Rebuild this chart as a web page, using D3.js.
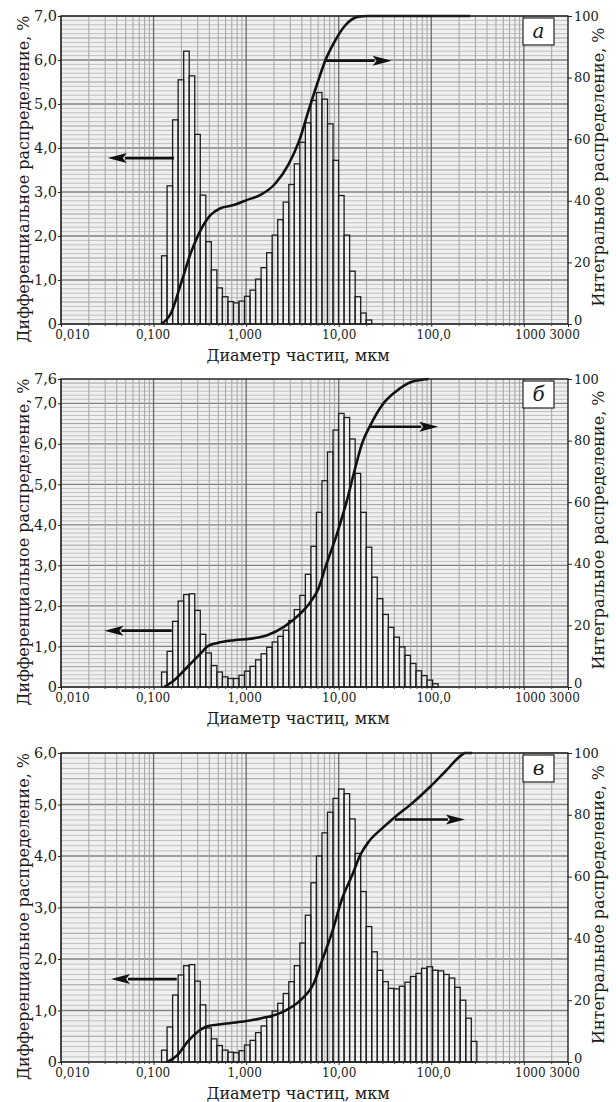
<!DOCTYPE html>
<html lang="ru">
<head>
<meta charset="UTF-8">
<title>Распределение частиц по размерам</title>
<script src="https://d3js.org/d3.v7.min.js"></script>
<style>
  body { margin: 0; background: #fff; }
  svg text { font-family: "DejaVu Serif", serif; fill: #1a1a1a; }
</style>
</head>
<body>
<svg id="chart" width="616" height="1102"></svg>
<script>
// size classes of the analyser: lower edge of the first class and ratio between classes
const classLo = 0.122;
const classRatio = 1.1475;

const xTickValues = [0.01, 0.1, 1, 10, 100, 1000, 3000];
const xTickLabels = ["0,010", "0,100", "1,000", "10,00", "100,0", "1000", "3000"];
const rightTickValues = [0, 20, 40, 60, 80, 100];

// panel а
const diffA = [1.55, 3.14, 4.64, 5.55, 6.20, 5.64, 4.31, 2.93, 1.87, 1.23,
  0.82, 0.62, 0.51, 0.48, 0.52, 0.63, 0.77, 1.02, 1.28, 1.62,
  2.02, 2.37, 2.77, 3.17, 3.64, 4.13, 4.57, 5.08, 5.26, 5.11,
  4.55, 3.72, 2.92, 2.02, 1.20, 0.62, 0.25, 0.09];
const cumA = [[0.12, 0], [0.154, 3.5], [0.197, 13], [0.252, 23], [0.323, 30.5],
  [0.414, 35.4], [0.531, 37.6], [0.733, 38.6], [1.03, 40.3], [1.43, 41.9],
  [2.08, 45.7], [2.89, 52], [3.71, 59.2], [4.75, 69.5], [5.86, 78],
  [7.20, 85.7], [9.22, 92.2], [11.8, 97], [16.4, 99.8], [20.3, 100], [263, 100]];
const yTicksA = [0, 1, 2, 3, 4, 5, 6, 7];

// panel б
const diffB = [0.37, 0.88, 1.62, 2.12, 2.28, 2.30, 1.89, 1.30, 0.84, 0.53,
  0.37, 0.25, 0.21, 0.21, 0.29, 0.39, 0.51, 0.67, 0.82, 0.98,
  1.11, 1.25, 1.40, 1.64, 1.91, 2.26, 2.78, 3.47, 4.31, 5.09,
  5.80, 6.34, 6.75, 6.65, 6.12, 5.27, 4.31, 3.45, 2.71, 2.18,
  1.79, 1.47, 1.23, 0.99, 0.78, 0.58, 0.40, 0.28, 0.17, 0.08];
const cumB = [[0.13, 0], [0.167, 2.2], [0.232, 6.5], [0.323, 10.9], [0.382, 13.2],
  [0.489, 14.3], [0.739, 15.2], [1.12, 15.7], [1.69, 16.8], [2.56, 19.5],
  [3.87, 23.9], [4.96, 27.6], [6.05, 32], [7.20, 39], [9.62, 49.9],
  [12.3, 60.7], [15.2, 71.5], [17.9, 79.1], [22.0, 85], [29.4, 91.5],
  [40.9, 95.8], [61.9, 99.1], [93.5, 100]];
const yTicksB = [0, 1, 2, 3, 4, 5, 6, 7, 7.6];

// panel в
const diffC = [0.23, 0.68, 1.30, 1.69, 1.87, 1.89, 1.57, 1.11, 0.66, 0.45,
  0.32, 0.23, 0.19, 0.18, 0.22, 0.33, 0.42, 0.57, 0.70, 0.87,
  0.99, 1.14, 1.33, 1.56, 1.87, 2.31, 2.85, 3.48, 4.00, 4.45,
  4.85, 5.12, 5.30, 5.21, 4.72, 4.05, 3.31, 2.63, 2.14, 1.78,
  1.56, 1.43, 1.42, 1.47, 1.55, 1.66, 1.72, 1.82, 1.85, 1.78,
  1.77, 1.70, 1.63, 1.45, 1.20, 0.85, 0.40];
const cumC = [[0.141, 0], [0.181, 2.2], [0.232, 6.5], [0.298, 9.7], [0.382, 11.6],
  [0.531, 12.2], [0.873, 13], [1.43, 14.1], [2.36, 15.9], [3.87, 20],
  [5.38, 25.5], [6.64, 33], [8.50, 42.1], [10.9, 52.9], [14.0, 60.5],
  [17.1, 67], [21.1, 71.3], [29.4, 75.6], [40.9, 79.4], [61.9, 83.7],
  [93.5, 88.6], [141.6, 94], [214, 99.4], [232, 100], [275, 100]];
const yTicksC = [0, 1, 2, 3, 4, 5, 6];

const panels = [
  { label: "а", diff: diffA, cum: cumA, yMax: 7.0, yTicks: yTicksA, top: 16, bottom: 324,
    arrowL: { y: 3.77, from: 0.166, to: 0.032 }, arrowR: { y: 85.5, from: 6.93, to: 37.3 } },
  { label: "б", diff: diffB, cum: cumB, yMax: 7.6, yTicks: yTicksB, top: 379, bottom: 687,
    arrowL: { y: 1.39, from: 0.157, to: 0.0294 }, arrowR: { y: 84.5, from: 21.8, to: 119 } },
  { label: "в", diff: diffC, cum: cumC, yMax: 6.0, yTicks: yTicksC, top: 753, bottom: 1062,
    arrowL: { y: 1.61, from: 0.178, to: 0.0347 }, arrowR: { y: 78.5, from: 40.6, to: 231 } }
];

const svg = d3.select("#chart");
const xL = 61, xR = 568;
const x = d3.scaleLog().domain([0.01, 3000]).range([xL, xR]);
const xLabelDx = [11, -1, -2, 0, 2, 6, -4];
const fmtLeft = d => d === 0 ? "0" : d3.format(".1f")(d).replace(".", ",");

// minor log positions
const minorX = [];
for (let e = -2; e <= 3; e++) {
  for (let m = 2; m <= 9; m++) {
    const v = m * Math.pow(10, e);
    if (v < 3000) minorX.push(v);
  }
}
const decadeX = [0.01, 0.1, 1, 10, 100, 1000];

panels.forEach(p => {
  const g = svg.append("g");
  const y = d3.scaleLinear().domain([0, p.yMax]).range([p.bottom, p.top]);
  const y2 = d3.scaleLinear().domain([0, 100]).range([p.bottom, p.top]);

  g.append("rect")
    .attr("x", xL).attr("y", p.top)
    .attr("width", xR - xL).attr("height", p.bottom - p.top)
    .attr("fill", "#f0f0f0");

  // horizontal grid
  const hMinor = d3.range(0, p.yMax + 1e-9, 0.1);
  g.append("g").selectAll("line").data(hMinor).join("line")
    .attr("x1", xL).attr("x2", xR)
    .attr("y1", d => y(d)).attr("y2", d => y(d))
    .attr("stroke", d => {
      const r = Math.round(d * 10);
      if (r % 10 === 0) return "#828282";
      if (r % 5 === 0) return "#a0a0a0";
      return "#c0c0c0";
    })
    .attr("stroke-width", d => Math.round(d * 10) % 10 === 0 ? 1.3 : 1);

  // vertical grid
  g.append("g").selectAll("line").data(minorX).join("line")
    .attr("x1", d => x(d)).attr("x2", d => x(d))
    .attr("y1", p.top).attr("y2", p.bottom)
    .attr("stroke", "#a4a4a4").attr("stroke-width", 1);
  g.append("g").selectAll("line").data(decadeX).join("line")
    .attr("x1", d => x(d)).attr("x2", d => x(d))
    .attr("y1", p.top).attr("y2", p.bottom)
    .attr("stroke", "#686868").attr("stroke-width", 1.3);

  // histogram
  const bins = p.diff.map((v, i) => ({
    lo: classLo * Math.pow(classRatio, i),
    hi: classLo * Math.pow(classRatio, i + 1),
    v
  }));
  g.append("g").selectAll("rect").data(bins).join("rect")
    .attr("x", d => x(d.lo))
    .attr("width", d => x(d.hi) - x(d.lo))
    .attr("y", d => y(d.v))
    .attr("height", d => y(0) - y(d.v))
    .attr("fill", "rgba(255,255,255,0.25)")
    .attr("stroke", "#1e1e1e").attr("stroke-width", 1.3);

  // cumulative curve
  const line = d3.line()
    .x(d => x(d[0])).y(d => y2(d[1]))
    .curve(d3.curveMonotoneX);
  g.append("path").datum(p.cum)
    .attr("d", line)
    .attr("fill", "none").attr("stroke", "#111").attr("stroke-width", 2.6);

  // arrows
  const drawArrow = (ya, x1, x2) => {
    const dir = Math.sign(x2 - x1);
    const head = 19;
    g.append("line")
      .attr("x1", x1).attr("x2", x2 - dir * head + dir * 2)
      .attr("y1", ya).attr("y2", ya)
      .attr("stroke", "#111").attr("stroke-width", 2.6);
    g.append("path")
      .attr("d", `M${x2},${ya} L${x2 - dir * head},${ya - 5} L${x2 - dir * head + dir * 4},${ya} L${x2 - dir * head},${ya + 5} Z`)
      .attr("fill", "#111");
  };
  drawArrow(y(p.arrowL.y), x(p.arrowL.from), x(p.arrowL.to));
  drawArrow(y2(p.arrowR.y), x(p.arrowR.from), x(p.arrowR.to));

  // frame
  g.append("rect")
    .attr("x", xL).attr("y", p.top)
    .attr("width", xR - xL).attr("height", p.bottom - p.top)
    .attr("fill", "none").attr("stroke", "#222").attr("stroke-width", 1.4);

  // axes
  const left = g.append("g").attr("transform", `translate(${xL},0)`)
    .call(d3.axisLeft(y).tickValues(p.yTicks).tickFormat(fmtLeft).tickSize(3).tickPadding(1));
  const right = g.append("g").attr("transform", `translate(${xR},0)`)
    .call(d3.axisRight(y2).tickValues(rightTickValues).tickSize(4).tickPadding(2));
  const bottom = g.append("g").attr("transform", `translate(0,${p.bottom})`)
    .call(d3.axisBottom(x).tickValues(xTickValues).tickFormat((d, i) => xTickLabels[i]).tickSize(3).tickPadding(3));
  [left, right, bottom].forEach(a => {
    a.select(".domain").remove();
    a.selectAll("text").attr("font-family", "DejaVu Serif").attr("fill", "#1a1a1a");
    a.selectAll("line").attr("stroke", "#222");
  });
  left.selectAll("text").attr("font-size", 14.5);
  right.selectAll("text").attr("font-size", 13)
    .attr("dy", d => d === 0 ? "0.05em" : "0.32em");
  bottom.selectAll("text").attr("font-size", 12)
    .attr("dx", (d, i) => xLabelDx[i]);

  // minor ticks on the bottom axis
  g.append("g").selectAll("line").data(minorX).join("line")
    .attr("x1", d => x(d)).attr("x2", d => x(d))
    .attr("y1", p.bottom).attr("y2", p.bottom + 2)
    .attr("stroke", "#444");

  // axis titles
  g.append("text")
    .attr("x", 298).attr("y", p.bottom + 37)
    .attr("text-anchor", "middle").attr("font-size", 16)
    .text("Диаметр частиц, мкм");
  g.append("text")
    .attr("transform", `translate(29,${(p.top + p.bottom) / 2 + 9}) rotate(-90)`)
    .attr("text-anchor", "middle").attr("font-size", 16)
    .text("Дифференциальное распределение, %");
  g.append("text")
    .attr("transform", `translate(604,${(p.top + p.bottom) / 2 - 3}) rotate(-90)`)
    .attr("text-anchor", "middle").attr("font-size", 16)
    .text("Интегральное распределение, %");

  // panel letter
  g.append("rect")
    .attr("x", xR - 45).attr("y", p.top + 2)
    .attr("width", 31).attr("height", 27)
    .attr("fill", "#fff").attr("stroke", "#222").attr("stroke-width", 1.2);
  g.append("text")
    .attr("x", xR - 29.5).attr("y", p.top + 22)
    .attr("text-anchor", "middle").attr("font-size", 20).attr("font-style", "italic")
    .text(p.label);
});
</script>
</body>
</html>
